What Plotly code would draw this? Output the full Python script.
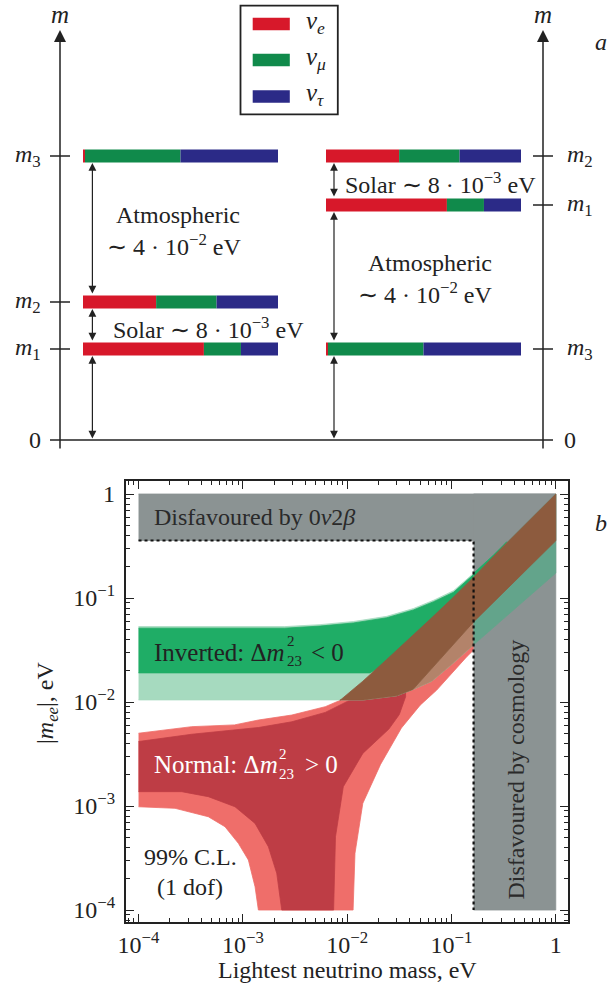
import plotly.graph_objects as go
import numpy as np

W, H = 610, 989

# ---------------- Panel a: mass ordering schematic ----------------
flavour_labels = ["<i>ν</i><sub><i>e</i></sub>", "<i>ν</i><sub><i>μ</i></sub>", "<i>ν</i><sub><i>τ</i></sub>"]
flavour_colors = ["#d7182a", "#108a4b", "#2b2a87"]

state_names = ["m1", "m2", "m3"]
# flavour content of the mass states (fractions nu_e, nu_mu, nu_tau)
frac_e = [0.62, 0.375, 0.01]
frac_mu = [0.19, 0.31, 0.49]
frac_tau = [0.19, 0.315, 0.50]
# schematic heights of the levels (arbitrary units, 0 = zero mass)
normal_levels = [91, 138, 284]      # m1, m2, m3
inverted_levels = [235, 284, 91]    # m1, m2, m3

# ---------------- Panel b: |m_ee| vs lightest mass (log10 eV) ----------------
nh_upper_x = [-4.0, -3.49, -3.08, -2.85, -2.53, -2.21, -2.07, -1.85, -1.62, -1.40, -1.20, -1.00, -0.788, -0.53, 0.0]
nh_upper_y = [-2.30, -2.237, -2.22, -2.173, -2.125, -2.045, -1.985, -1.80, -1.59, -1.39, -1.20, -1.01, -0.80, -0.53, 0.0]
nh3_right_x = [-0.788, -0.853, -1.141, -1.30, -1.48, -1.68, -1.85, -1.925, -1.943]
nh3_right_y = [-1.50, -1.564, -1.885, -2.03, -2.25, -2.60, -2.974, -3.455, -4.0]
nh3_left_x = [-2.851, -2.883, -2.947, -3.043, -3.171, -3.331, -3.65, -4.0]
nh3_left_y = [-4.0, -3.776, -3.519, -3.359, -3.199, -3.103, -3.022, -3.007]
nh1_upper_x = [-4.0, -3.49, -2.85, -2.53, -2.21, -2.07, -1.95, -1.70, -1.44]
nh1_upper_y = [-2.38, -2.31, -2.245, -2.19, -2.10, -2.03, -1.97, -1.92, -1.90]
nh1_right_x = [-1.44, -1.50, -1.60, -1.85, -2.037, -2.112, -2.13]
nh1_right_y = [-1.95, -2.12, -2.26, -2.494, -2.814, -3.295, -4.0]
nh1_left_x = [-2.627, -2.675, -2.755, -2.883, -3.075, -3.331, -3.586, -4.0]
nh1_left_y = [-4.0, -3.647, -3.391, -3.167, -3.007, -2.91, -2.862, -2.862]
nh1_band_lower_x = [-1.37, -0.788, 0.0]
nh1_band_lower_y = [-1.88, -1.23, -0.45]

ih3_upper_x = [-4.0, -2.6, -2.26, -1.94, -1.62, -1.365, -1.17, -0.98, -0.788, -0.6, -0.47]
ih3_upper_y = [-1.275, -1.275, -1.256, -1.226, -1.176, -1.101, -1.021, -0.93, -0.763, -0.59, -0.46]
ih1_upper_x = [-4.0, -2.6, -2.26, -1.94, -1.62, -1.365, -1.17, -0.98, -0.788]
ih1_upper_y = [-1.29, -1.29, -1.27, -1.24, -1.19, -1.115, -1.035, -0.945, -0.775]
ih1_lower_x = [-4.0, -1.78, -1.62, -1.40, -1.20, -1.00, -0.788]
ih1_lower_y = [-1.72, -1.72, -1.62, -1.42, -1.23, -1.04, -0.83]
ih3_lower_x = [-4.0, -2.07, -1.845, -1.524, -1.37, -1.19, -1.00, -0.788, 0.0]
ih3_lower_y = [-1.98, -1.98, -1.98, -1.94, -1.88, -1.80, -1.64, -1.45, -0.76]

dbd_limit = -0.447      # log10 |m_ee| bound (0nu2beta)
cosmo_limit = -0.788    # log10 lightest mass bound (cosmology)
x_ticks = [1e-4, 1e-3, 1e-2, 1e-1, 1]
x_ticktext = ["10<sup>−4</sup>", "10<sup>−3</sup>", "10<sup>−2</sup>", "10<sup>−1</sup>", "1"]
y_ticks = [1e-4, 1e-3, 1e-2, 1e-1, 1]
y_ticktext = ["10<sup>−4</sup>", "10<sup>−3</sup>", "10<sup>−2</sup>", "10<sup>−1</sup>", "1"]

C_GRAY = "#8b9393"
C_LRED = "#ef6e6a"
C_DRED = "#be3d45"
C_LGRN = "#a6dabf"
C_DGRN = "#1fad66"
C_TAN = "#b3836a"
C_BRN = "#8d5b3e"
C_MGRN = "#63a48b"
TXT = "#222222"
FONT = "Liberation Serif"

fig = go.Figure()


def poly(xs, ys, color):
    xs = np.asarray(xs, float)
    ys = np.asarray(ys, float)
    fig.add_trace(go.Scatter(x=10 ** xs, y=10 ** ys, mode="lines", fill="toself",
                             fillcolor=color, line=dict(width=0.8, color=color),
                             hoverinfo="skip", showlegend=False, xaxis="x", yaxis="y"))


def upto(xs, ys, xmax):
    return [x for x in xs if x <= xmax + 1e-9], [y for x, y in zip(xs, ys) if x <= xmax + 1e-9]


def from_(xs, ys, xmin):
    return [x for x in xs if x >= xmin - 1e-9], [y for x, y in zip(xs, ys) if x >= xmin - 1e-9]


# 1 light red (NH outer)
ux, uy = upto(nh_upper_x, nh_upper_y, cosmo_limit)
poly(ux + nh3_right_x + nh3_left_x, uy + nh3_right_y + nh3_left_y, C_LRED)
# 2 dark red (NH inner)
poly(nh1_upper_x + nh1_right_x + nh1_left_x, nh1_upper_y + nh1_right_y + nh1_left_y, C_DRED)
# 3 light green (IH outer)
ux, uy = upto(ih3_upper_x, ih3_upper_y, cosmo_limit)
lx, ly = upto(ih3_lower_x, ih3_lower_y, cosmo_limit)
poly(ux + lx[::-1], uy + ly[::-1], C_LGRN)
# 4 dark green (IH inner)
poly(ih1_upper_x + ih1_lower_x[::-1], ih1_upper_y + ih1_lower_y[::-1], C_DGRN)
# 5 tan (IH with NH outer only)
tx = nh1_band_lower_x[:2] + [cosmo_limit, -1.00, -1.19, -1.37]
ty = nh1_band_lower_y[:2] + [-1.45, -1.64, -1.80, -1.88]
poly(tx, ty, C_TAN)
# 6 gray excluded regions
poly([-4.0, 0.0, 0.0, -4.0], [dbd_limit, dbd_limit, 0.0, 0.0], C_GRAY)
poly([cosmo_limit, 0.0, 0.0, cosmo_limit], [-4.0, -4.0, 0.0, 0.0], C_GRAY)
# 7 IH band inside cosmology region
ux, uy = from_(nh_upper_x, nh_upper_y, cosmo_limit)
lx, ly = from_(ih3_lower_x, ih3_lower_y, cosmo_limit)
poly(ux + lx[::-1], uy + ly[::-1], C_MGRN)
# 8 thin IH sliver above NH band
sx, sy = from_(ih3_upper_x, ih3_upper_y, cosmo_limit)
poly(sx + [-0.53, cosmo_limit], sy + [-0.53, -0.80], C_DGRN)
# 9 brown overlap band
bx, by = from_(nh_upper_x, nh_upper_y, -2.07)
low_x = nh1_band_lower_x[::-1] + [-1.524, -1.845, -2.07]
low_y = nh1_band_lower_y[::-1] + [-1.94, -1.98, -1.98]
poly(bx + low_x, by + low_y, C_BRN)
# 10 dotted limits
fig.add_trace(go.Scatter(x=[1e-4, 10 ** cosmo_limit, 10 ** cosmo_limit],
                         y=[10 ** dbd_limit, 10 ** dbd_limit, 1e-4], mode="lines",
                         line=dict(color="#111", width=2.2, dash="dot"),
                         hoverinfo="skip", showlegend=False))

# ---- panel a bars ----
bar_len = 195
for x0, levels in [(83, normal_levels), (326, inverted_levels)]:
    for i, lev in enumerate(levels):
        fr = [frac_e[i], frac_mu[i], frac_tau[i]]
        start = x0
        for k in range(3):
            fig.add_trace(go.Bar(orientation="h", y=[lev], x=[fr[k] * bar_len], base=[start],
                                 width=13, marker=dict(color=flavour_colors[k], line=dict(width=0)),
                                 xaxis="x2", yaxis="y2", showlegend=False, hoverinfo="skip"))
            start += fr[k] * bar_len

shapes = []
annotations = []
LC = "#222"
# axes of panel a
shapes.append(dict(type="line", xref="x2", yref="y2", x0=50, x1=553, y0=0, y1=0, line=dict(color=LC, width=1.5)))
for xa in (60, 543):
    annotations.append(dict(xref="x2", yref="y2", axref="x2", ayref="y2", x=xa, y=410, ax=xa, ay=-10,
                            text="", showarrow=True, arrowhead=2, arrowsize=1.6, arrowwidth=1.5,
                            arrowcolor=LC, standoff=0))
    annotations.append(dict(xref="x2", yref="y2", x=xa, y=426, text="<i>m</i>", showarrow=False,
                            font=dict(family=FONT, size=25, color=TXT)))
for lev, name in zip(normal_levels, ["1", "2", "3"]):
    shapes.append(dict(type="line", xref="x2", yref="y2", x0=50, x1=70, y0=lev, y1=lev, line=dict(color=LC, width=1.5)))
    annotations.append(dict(xref="x2", yref="y2", x=28, y=lev, text=f"<i>m</i><sub>{name}</sub>", showarrow=False,
                            font=dict(family=FONT, size=24, color=TXT)))
for lev, name in zip(inverted_levels, ["1", "2", "3"]):
    shapes.append(dict(type="line", xref="x2", yref="y2", x0=533, x1=553, y0=lev, y1=lev, line=dict(color=LC, width=1.5)))
    annotations.append(dict(xref="x2", yref="y2", x=580, y=lev, text=f"<i>m</i><sub>{name}</sub>", showarrow=False,
                            font=dict(family=FONT, size=24, color=TXT)))
for xz in (35, 570):
    annotations.append(dict(xref="x2", yref="y2", x=xz, y=0, text="0", showarrow=False,
                            font=dict(family=FONT, size=24, color=TXT)))
annotations.append(dict(xref="x2", yref="y2", x=601, y=398, text="<i>a</i>", showarrow=False,
                        font=dict(family=FONT, size=24, color=TXT)))


def darrow(x, y_top, y_bot):
    annotations.append(dict(xref="x2", yref="y2", axref="x2", ayref="y2", x=x, y=y_top, ax=x, ay=y_bot,
                            text="", showarrow=True, arrowside="end+start", arrowhead=2, startarrowhead=2,
                            arrowsize=1.3, startarrowsize=1.3, arrowwidth=1.2, arrowcolor=LC, standoff=0,
                            startstandoff=0))


n1, n2, n3 = normal_levels
darrow(92.4, n3 - 7, n2 + 7)
darrow(92.4, n2 - 7, n1 + 7)
darrow(92.4, n1 - 7, 0)
i1, i2, i3 = inverted_levels
darrow(334, i2 - 7, i1 + 7)
darrow(334, i1 - 7, i3 + 7)
darrow(334, i3 - 7, 0)

f24 = dict(family=FONT, size=24, color=TXT)
annotations += [
    dict(xref="x2", yref="y2", x=177.5, y=225, text="Atmospheric", showarrow=False, font=f24),
    dict(xref="x2", yref="y2", x=174, y=195, text="∼ 4 · 10<sup>−2</sup> eV", showarrow=False, font=f24),
    dict(xref="x2", yref="y2", x=208, y=112, text="Solar ∼ 8 · 10<sup>−3</sup> eV", showarrow=False, font=f24),
    dict(xref="x2", yref="y2", x=440, y=257, text="Solar ∼ 8 · 10<sup>−3</sup> eV", showarrow=False, font=f24),
    dict(xref="x2", yref="y2", x=430, y=177, text="Atmospheric", showarrow=False, font=f24),
    dict(xref="x2", yref="y2", x=425, y=147, text="∼ 4 · 10<sup>−2</sup> eV", showarrow=False, font=f24),
]

# legend of panel a
shapes.append(dict(type="rect", xref="x2", yref="y2", x0=240.5, x1=337.8, y0=325.7, y1=434.3,
                   line=dict(color="#222", width=1.8), fillcolor="white"))
for k, yc in enumerate([416, 380, 343.5]):
    shapes.append(dict(type="rect", xref="x2", yref="y2", x0=252.7, x1=289.8, y0=yc - 6.2, y1=yc + 6.2,
                       line=dict(width=0), fillcolor=flavour_colors[k]))
    annotations.append(dict(xref="x2", yref="y2", x=304, y=yc + 2, xanchor="left", text=flavour_labels[k],
                            showarrow=False, font=dict(family=FONT, size=25, color=TXT)))


# ---- panel b labels (paper coordinates from pixel positions) ----
def P(x, y):
    return x / W, 1 - y / H


def ann(x, y, text, size=24, color=TXT, xanchor="center", angle=0):
    a, b = P(x, y)
    annotations.append(dict(xref="paper", yref="paper", x=a, y=b, text=text, showarrow=False,
                            xanchor=xanchor, yanchor="middle", textangle=angle, align="left",
                            font=dict(family=FONT, size=size, color=color)))


ann(152, 517, "Disfavoured by 0<i>ν</i>2<i>β</i>", 24, "#2a2a2a", "left")
ann(152, 652, "Inverted: Δ<i>m</i>", 25, TXT, "left")
ann(285, 651, "2<br>23", 15, TXT, "left")
ann(309, 652, "&lt; 0", 25, TXT, "left")
ann(152, 764, "Normal: Δ<i>m</i>", 25, "white", "left")
ann(277, 764, "2<br>23", 15, "white", "left")
ann(303, 764, "&gt; 0", 25, "white", "left")
ann(190.5, 857, "99% C.L.", 24)
ann(190, 887, "(1 dof)", 24)
ann(515.6, 770, "Disfavoured by cosmology", 24, "#2a2a2a", "center", -90)
ann(601, 523, "<i>b</i>", 24)
ann(47, 703, "|<i>m</i><sub><i>ee</i></sub>|, eV", 24, TXT, "center", -90)
ann(347.5, 970, "Lightest neutrino mass, eV", 24)

minor_vals = [m * 10.0 ** e for e in range(-5, 1) for m in range(2, 10)]
axis_common = dict(type="log", showline=True, linecolor="#222", linewidth=1.5, mirror="allticks",
                   ticks="inside", ticklen=9, tickwidth=1.4, tickcolor="#222", showgrid=False,
                   zeroline=False, automargin=False, tickfont=dict(family=FONT, size=24, color=TXT),
                   minor=dict(ticks="inside", ticklen=5, tickwidth=1, tickcolor="#222",
                              tickvals=minor_vals, showgrid=False))

fig.update_layout(
    width=W, height=H, margin=dict(l=0, r=0, t=0, b=0, autoexpand=False), autosize=False,
    paper_bgcolor="white", plot_bgcolor="white", barmode="overlay", showlegend=False,
    xaxis=dict(domain=[125.6 / W, 568.3 / W], range=[-4.124, 0.120], tickmode="array",
               tickvals=x_ticks, ticktext=x_ticktext, **axis_common),
    yaxis=dict(domain=[1 - 922.3 / H, 1 - 480.7 / H], range=[-4.118, 0.128], tickmode="array",
               tickvals=y_ticks, ticktext=y_ticktext, ticklabelstandoff=4, **axis_common),
    xaxis2=dict(domain=[0, 1], range=[0, W], visible=False, anchor="y2", automargin=False),
    yaxis2=dict(domain=[1 - 460 / H, 1], range=[-20, 440], visible=False, anchor="x2", automargin=False),
    shapes=shapes, annotations=annotations,
)

fig.write_html("out.html", config={"displayModeBar": False},
               post_script="document.body.style.margin='0';document.body.style.overflow='hidden';")
